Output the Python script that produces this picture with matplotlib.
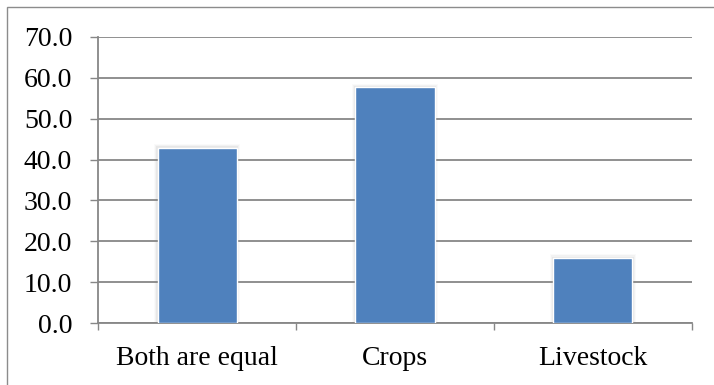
import matplotlib
matplotlib.use("Agg")
import matplotlib.pyplot as plt
from matplotlib.patches import Rectangle

categories = ["Both are equal", "Crops", "Livestock"]
values = [42.9, 57.6, 16.0]
yticks = [0, 10, 20, 30, 40, 50, 60, 70]
ytick_labels = [f"{v:.1f}" for v in yticks]

plt.rcParams["font.family"] = ["Liberation Serif", "DejaVu Serif"]

W, H = 714, 385
fig = plt.figure(figsize=(W / 100, H / 100), dpi=100)

# outer frame of the chart area
fig.patches.append(Rectangle((7 / W, -0.01), 1.2, (H - 7) / H + 0.01,
                             transform=fig.transFigure, fill=False,
                             edgecolor="#8c8c8c", linewidth=1.0))

left, right, top, bottom = 98.3, 691.7, 36.7, 323.3
ax = fig.add_axes([left / W, 1 - bottom / H, (right - left) / W, (bottom - top) / H])

grid_color = "#878787"
x = list(range(len(categories)))

# soft halo behind each bar
for k, a in enumerate([0.04, 0.06, 0.09]):
    ax.bar(x, [v + 0.3 * (3 - k) for v in values], width=0.4 + 0.012 * (3 - k),
           color="#808080", alpha=a, zorder=2, linewidth=0)
ax.bar(x, values, width=0.4, color="#4F81BD", edgecolor="white",
       linewidth=1.0, zorder=3)

ax.set_xlim(-0.5, len(categories) - 0.5)
ax.set_ylim(0, 70)
ax.set_yticks(yticks)
ax.set_yticklabels(ytick_labels, fontsize=20)
ax.yaxis.grid(True, color=grid_color, linewidth=1.3, zorder=1)
ax.set_axisbelow(True)

ax.set_xticks([-0.5 + i for i in range(len(categories) + 1)])
ax.set_xticklabels([])
ax.set_xticks(x, minor=True)
ax.set_xticklabels(categories, minor=True, fontsize=20)
ax.tick_params(axis="x", which="minor", length=0, pad=16)
ax.tick_params(axis="x", which="major", length=5, width=1.0, color=grid_color)
ax.tick_params(axis="y", length=5.8, width=1.0, color=grid_color, pad=13)

for s in ["top", "right"]:
    ax.spines[s].set_visible(False)
for s in ["left", "bottom"]:
    ax.spines[s].set_color(grid_color)
    ax.spines[s].set_linewidth(1.3)

fig.savefig("out.png", dpi=100)
